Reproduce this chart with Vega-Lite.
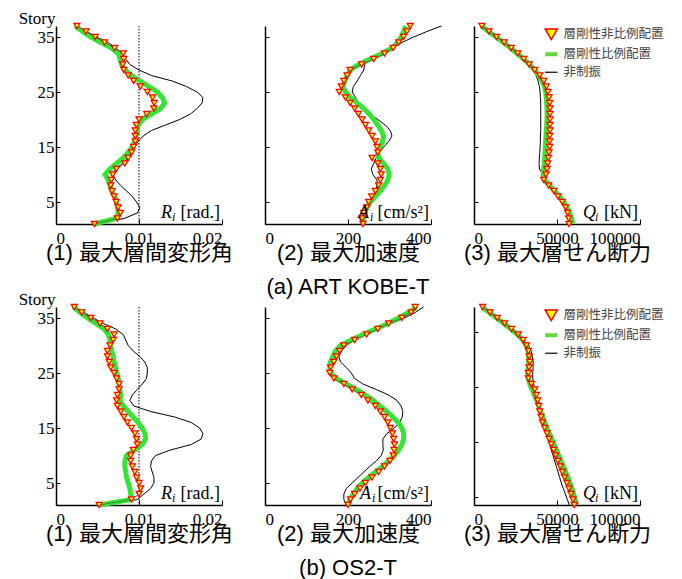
{
"$schema": "https://vega.github.io/schema/vega-lite/v6.json",
"padding": {"left": 18, "top": 9, "right": 0, "bottom": 0},
"config": {
  "view": {"stroke": null},
  "axis": {"grid": false, "domainColor": "black", "domainWidth": 1.5, "tickColor": "black", "tickWidth": 1, "labelFont": "Liberation Serif", "labelFontSize": 17, "labelColor": "black", "titleFont": "Liberation Sans, Noto Sans CJK JP", "titleFontSize": 22, "titleFontWeight": "normal", "titleColor": "black"},
  "title": {"font": "Liberation Sans, Noto Sans CJK JP", "fontSize": 22, "fontWeight": "normal", "color": "black"}
},
"datasets": {
"a1": [
{"s":37,"r":0.00252,"g":0.0023,"b":0.0025},{"s":36,"r":0.00362,"g":0.0032,"b":0.0037},{"s":35,"r":0.00472,"g":0.0042,"b":0.0049},{"s":34,"r":0.00585,"g":0.0054,"b":0.0063},{"s":33,"r":0.00707,"g":0.0067,"b":0.0072},{"s":32,"r":0.00809,"g":0.0075,"b":0.008},{"s":31,"r":0.00817,"g":0.0077,"b":0.0084},{"s":30,"r":0.00805,"g":0.0079,"b":0.0089},{"s":29,"r":0.00817,"g":0.0083,"b":0.01},{"s":28,"r":0.0087,"g":0.0091,"b":0.0115},{"s":27,"r":0.00935,"g":0.0101,"b":0.014},{"s":26,"r":0.01016,"g":0.0112,"b":0.0157},{"s":25,"r":0.01102,"g":0.0122,"b":0.017},{"s":24,"r":0.01163,"g":0.0128,"b":0.0177},{"s":23,"r":0.01183,"g":0.0131,"b":0.0176},{"s":22,"r":0.01179,"g":0.0126,"b":0.017},{"s":21,"r":0.01093,"g":0.0115,"b":0.0162},{"s":20,"r":0.01,"g":0.0104,"b":0.0149},{"s":19,"r":0.00967,"g":0.0099,"b":0.0132},{"s":18,"r":0.00955,"g":0.0098,"b":0.0115},{"s":17,"r":0.00955,"g":0.0096,"b":0.0105},{"s":16,"r":0.00955,"g":0.0095,"b":0.0099},{"s":15,"r":0.00935,"g":0.0092,"b":0.0095},{"s":14,"r":0.00911,"g":0.0087,"b":0.0091},{"s":13,"r":0.0087,"g":0.0081,"b":0.0087},{"s":12,"r":0.00829,"g":0.0073,"b":0.008},{"s":11,"r":0.00728,"g":0.0065,"b":0.0072},{"s":10,"r":0.00683,"g":0.0059,"b":0.0068},{"s":9,"r":0.00667,"g":0.0063,"b":0.0072},{"s":8,"r":0.00659,"g":0.0065,"b":0.0078},{"s":7,"r":0.00675,"g":0.0067,"b":0.0085},{"s":6,"r":0.00699,"g":0.0071,"b":0.0092},{"s":5,"r":0.00724,"g":0.0073,"b":0.0097},{"s":4,"r":0.00748,"g":0.0074,"b":0.0101},{"s":3,"r":0.00776,"g":0.0075,"b":0.0098},{"s":2,"r":0.0074,"g":0.0072,"b":0.0082},{"s":1,"r":0.00463,"g":0.0046,"b":0.0045}
],
"a2": [
{"s":37,"r":350,"g":339,"b":425},{"s":36,"r":342,"g":334,"b":390},{"s":35,"r":334,"g":328,"b":358},{"s":34,"r":322,"g":320,"b":330},{"s":33,"r":309,"g":306,"b":305},{"s":32,"r":288,"g":282,"b":280},{"s":31,"r":262,"g":254,"b":258},{"s":30,"r":233,"g":226,"b":240},{"s":29,"r":205,"g":206,"b":238},{"s":28,"r":198,"g":198,"b":230},{"s":27,"r":190,"g":192,"b":222},{"s":26,"r":184,"g":188,"b":213},{"s":25,"r":179,"g":194,"b":210},{"s":24,"r":194,"g":206,"b":218},{"s":23,"r":205,"g":222,"b":226},{"s":22,"r":216,"g":238,"b":236},{"s":21,"r":225,"g":251,"b":252},{"s":20,"r":234,"g":262,"b":272},{"s":19,"r":242,"g":272,"b":290},{"s":18,"r":250,"g":280,"b":302},{"s":17,"r":258,"g":286,"b":306},{"s":16,"r":266,"g":283,"b":298},{"s":15,"r":270,"g":278,"b":286},{"s":14,"r":272,"g":272,"b":276},{"s":13,"r":258,"g":274,"b":268},{"s":12,"r":272,"g":286,"b":262},{"s":11,"r":278,"g":296,"b":256},{"s":10,"r":280,"g":299,"b":260},{"s":9,"r":278,"g":296,"b":270},{"s":8,"r":274,"g":288,"b":270},{"s":7,"r":266,"g":278,"b":266},{"s":6,"r":257,"g":266,"b":262},{"s":5,"r":250,"g":254,"b":256},{"s":4,"r":245,"g":246,"b":248},{"s":3,"r":238,"g":240,"b":236},{"s":2,"r":234,"g":238,"b":228},{"s":1,"r":236,"g":238,"b":236}
],
"a3": [
{"s":37,"r":4800,"g":4500,"b":4800},{"s":36,"r":9000,"g":8800,"b":9000},{"s":35,"r":13600,"g":13200,"b":13400},{"s":34,"r":18200,"g":17800,"b":18000},{"s":33,"r":22400,"g":22000,"b":22400},{"s":32,"r":26400,"g":26000,"b":26400},{"s":31,"r":30000,"g":30000,"b":30000},{"s":30,"r":33200,"g":33500,"b":33400},{"s":29,"r":36600,"g":36500,"b":35800},{"s":28,"r":39600,"g":39000,"b":37400},{"s":27,"r":42000,"g":41000,"b":38600},{"s":26,"r":43600,"g":42500,"b":39400},{"s":25,"r":44600,"g":43200,"b":39800},{"s":24,"r":45200,"g":43600,"b":40000},{"s":23,"r":45600,"g":43800,"b":40200},{"s":22,"r":45800,"g":44000,"b":40200},{"s":21,"r":45800,"g":44000,"b":40200},{"s":20,"r":45800,"g":44000,"b":40200},{"s":19,"r":45800,"g":43800,"b":40200},{"s":18,"r":45800,"g":43600,"b":40200},{"s":17,"r":45600,"g":43400,"b":40000},{"s":16,"r":45600,"g":43200,"b":40000},{"s":15,"r":45600,"g":43000,"b":39800},{"s":14,"r":45200,"g":42800,"b":39600},{"s":13,"r":44800,"g":42600,"b":39400},{"s":12,"r":44400,"g":42400,"b":39200},{"s":11,"r":44000,"g":42000,"b":39400},{"s":10,"r":43400,"g":41600,"b":42000},{"s":9,"r":42000,"g":42500,"b":43500},{"s":8,"r":45000,"g":45500,"b":45500},{"s":7,"r":48200,"g":48500,"b":48200},{"s":6,"r":50600,"g":51500,"b":50800},{"s":5,"r":53200,"g":54000,"b":53200},{"s":4,"r":55200,"g":56000,"b":55400},{"s":3,"r":56400,"g":57500,"b":57000},{"s":2,"r":57000,"g":58800,"b":58000},{"s":1,"r":57200,"g":59500,"b":58600}
],
"b1": [
{"s":37,"r":0.0022,"g":0.0021,"b":0.0024},{"s":36,"r":0.0031,"g":0.0029,"b":0.0034},{"s":35,"r":0.0042,"g":0.0038,"b":0.0045},{"s":34,"r":0.0053,"g":0.0048,"b":0.0057},{"s":33,"r":0.0062,"g":0.0058,"b":0.0072},{"s":32,"r":0.007,"g":0.0063,"b":0.0081},{"s":31,"r":0.0069,"g":0.0065,"b":0.0084},{"s":30,"r":0.0065,"g":0.0066,"b":0.0087},{"s":29,"r":0.0062,"g":0.0067,"b":0.0093},{"s":28,"r":0.0062,"g":0.0069,"b":0.0101},{"s":27,"r":0.0064,"g":0.007,"b":0.0107},{"s":26,"r":0.0066,"g":0.0072,"b":0.011},{"s":25,"r":0.007,"g":0.0073,"b":0.011},{"s":24,"r":0.0073,"g":0.0075,"b":0.0109},{"s":23,"r":0.0076,"g":0.0076,"b":0.0104},{"s":22,"r":0.0076,"g":0.0077,"b":0.0098},{"s":21,"r":0.0074,"g":0.0078,"b":0.0092},{"s":20,"r":0.0073,"g":0.0077,"b":0.0089},{"s":19,"r":0.0074,"g":0.0081,"b":0.0094},{"s":18,"r":0.0078,"g":0.0087,"b":0.0114},{"s":17,"r":0.0082,"g":0.0093,"b":0.0143},{"s":16,"r":0.0086,"g":0.0099,"b":0.0163},{"s":15,"r":0.0091,"g":0.0104,"b":0.0173},{"s":14,"r":0.0095,"g":0.0107,"b":0.0177},{"s":13,"r":0.0097,"g":0.0108,"b":0.0175},{"s":12,"r":0.0098,"g":0.0104,"b":0.0163},{"s":11,"r":0.0093,"g":0.0095,"b":0.0138},{"s":10,"r":0.009,"g":0.0085,"b":0.012},{"s":9,"r":0.009,"g":0.0083,"b":0.0115},{"s":8,"r":0.0092,"g":0.0083,"b":0.0114},{"s":7,"r":0.0095,"g":0.0084,"b":0.0116},{"s":6,"r":0.0097,"g":0.0085,"b":0.0118},{"s":5,"r":0.01,"g":0.0087,"b":0.0118},{"s":4,"r":0.0102,"g":0.0089,"b":0.0114},{"s":3,"r":0.01,"g":0.009,"b":0.0106},{"s":2,"r":0.0091,"g":0.0091,"b":0.0098},{"s":1,"r":0.0052,"g":0.0052,"b":0.0055}
],
"b2": [
{"s":37,"r":362,"g":366,"b":382},{"s":36,"r":352,"g":346,"b":362},{"s":35,"r":330,"g":322,"b":336},{"s":34,"r":298,"g":296,"b":305},{"s":33,"r":272,"g":266,"b":274},{"s":32,"r":245,"g":236,"b":244},{"s":31,"r":216,"g":208,"b":216},{"s":30,"r":190,"g":182,"b":196},{"s":29,"r":180,"g":170,"b":184},{"s":28,"r":172,"g":163,"b":178},{"s":27,"r":166,"g":158,"b":182},{"s":26,"r":158,"g":156,"b":196},{"s":25,"r":156,"g":158,"b":208},{"s":24,"r":166,"g":172,"b":216},{"s":23,"r":190,"g":195,"b":236},{"s":22,"r":210,"g":220,"b":268},{"s":21,"r":232,"g":242,"b":298},{"s":20,"r":248,"g":261,"b":318},{"s":19,"r":266,"g":277,"b":328},{"s":18,"r":278,"g":293,"b":332},{"s":17,"r":288,"g":308,"b":331},{"s":16,"r":296,"g":321,"b":324},{"s":15,"r":302,"g":330,"b":312},{"s":14,"r":307,"g":334,"b":294},{"s":13,"r":310,"g":334,"b":284},{"s":12,"r":312,"g":330,"b":284},{"s":11,"r":311,"g":322,"b":285},{"s":10,"r":309,"g":312,"b":280},{"s":9,"r":301,"g":298,"b":268},{"s":8,"r":288,"g":283,"b":252},{"s":7,"r":274,"g":266,"b":238},{"s":6,"r":258,"g":250,"b":224},{"s":5,"r":242,"g":234,"b":210},{"s":4,"r":229,"g":222,"b":196},{"s":3,"r":216,"g":213,"b":190},{"s":2,"r":206,"g":205,"b":190},{"s":1,"r":200,"g":200,"b":196}
],
"b3": [
{"s":37,"r":5200,"g":4800,"b":5000},{"s":36,"r":9600,"g":9200,"b":9400},{"s":35,"r":14000,"g":13600,"b":13800},{"s":34,"r":18400,"g":18000,"b":18200},{"s":33,"r":22600,"g":22200,"b":22600},{"s":32,"r":26600,"g":26200,"b":26800},{"s":31,"r":29600,"g":29400,"b":30400},{"s":30,"r":31600,"g":31400,"b":33000},{"s":29,"r":32800,"g":32600,"b":34400},{"s":28,"r":33200,"g":33000,"b":35200},{"s":27,"r":33600,"g":33000,"b":35600},{"s":26,"r":33200,"g":32600,"b":35600},{"s":25,"r":32800,"g":32200,"b":35400},{"s":24,"r":32800,"g":32600,"b":35400},{"s":23,"r":34600,"g":33600,"b":36000},{"s":22,"r":36600,"g":35000,"b":36600},{"s":21,"r":37600,"g":36400,"b":37000},{"s":20,"r":38400,"g":37800,"b":37600},{"s":19,"r":39000,"g":39000,"b":38400},{"s":18,"r":39600,"g":40200,"b":39400},{"s":17,"r":40400,"g":41400,"b":40600},{"s":16,"r":41200,"g":42600,"b":41600},{"s":15,"r":42600,"g":44000,"b":42600},{"s":14,"r":44000,"g":45400,"b":43600},{"s":13,"r":45200,"g":46800,"b":44600},{"s":12,"r":46600,"g":48200,"b":45600},{"s":11,"r":48000,"g":49600,"b":46600},{"s":10,"r":49200,"g":51000,"b":47600},{"s":9,"r":50600,"g":52400,"b":48600},{"s":8,"r":52000,"g":53800,"b":49600},{"s":7,"r":53200,"g":55200,"b":50600},{"s":6,"r":54600,"g":56600,"b":51600},{"s":5,"r":56000,"g":57800,"b":52600},{"s":4,"r":57200,"g":59000,"b":53800},{"s":3,"r":58400,"g":60000,"b":55000},{"s":2,"r":59600,"g":61000,"b":56200},{"s":1,"r":60400,"g":61800,"b":57400}
]
},
"spacing": -8,
"resolve": {"scale": {"stroke": "independent", "fill": "independent", "shape": "independent"}, "legend": {"stroke": "independent", "fill": "independent", "shape": "independent"}},
"vconcat": [
{
"hconcat": [
{
 "width": 166, "height": 198,
 "data": {"name": "a1"},
 "layer": [
  {"data": {"values": [{}]}, "mark": {"type": "rule", "color": "black", "strokeWidth": 1, "strokeDash": [1.5, 1.5]},
   "encoding": {"x": {"datum": 0.01, "type": "quantitative", "scale": {"domain": [0, 0.02], "nice": false, "zero": false}}}},
  {"mark": {"type": "line", "color": "black", "strokeWidth": 1},
   "encoding": {"x": {"field": "b", "type": "quantitative", "scale": {"domain": [0, 0.02], "nice": false, "zero": false}, "axis": {"values": [0, 0.01, 0.02], "format": "~g", "title": "(1)  最大層間変形角", "tickSize": -5, "labelPadding": 11, "titlePadding": -4}},
    "y": {"field": "s", "type": "quantitative", "scale": {"domain": [1, 37], "nice": false, "zero": false}, "axis": {"values": [5, 10, 15, 20, 25, 30, 35], "title": "Story", "titleAngle": 0, "titleAlign": "right", "titleBaseline": "alphabetic", "titleX": -1, "titleY": -3, "titleFont": "Liberation Serif", "titleFontSize": 17, "tickSize": -4, "labelPadding": 6}},
    "order": {"field": "s"}}},
  {"mark": {"type": "line", "color": "#33e633", "strokeWidth": 5},
   "encoding": {"x": {"field": "g", "type": "quantitative", "scale": {"domain": [0, 0.02], "nice": false, "zero": false}}, "y": {"field": "s", "type": "quantitative", "scale": {"domain": [1, 37], "nice": false, "zero": false}}, "order": {"field": "s"}}},
  {"mark": {"type": "line", "color": "#555555", "strokeWidth": 0.8},
   "encoding": {"x": {"field": "r", "type": "quantitative", "scale": {"domain": [0, 0.02], "nice": false, "zero": false}}, "y": {"field": "s", "type": "quantitative", "scale": {"domain": [1, 37], "nice": false, "zero": false}}, "order": {"field": "s"}}},
  {"mark": {"type": "point", "shape": "triangle-down", "filled": true, "fill": "#ffff00", "stroke": "#ff0000", "strokeWidth": 1.2, "size": 38, "opacity": 1},
   "encoding": {"x": {"field": "r", "type": "quantitative", "scale": {"domain": [0, 0.02], "nice": false, "zero": false}}, "y": {"field": "s", "type": "quantitative", "scale": {"domain": [1, 37], "nice": false, "zero": false}}}},
  {"data": {"values": [{}]}, "mark": {"type": "text", "text": "R", "font": "Liberation Serif", "fontStyle": "italic", "fontSize": 18, "align": "left", "baseline": "alphabetic", "dx": -61, "dy": -6},
   "encoding": {"x": {"datum": 0.02, "type": "quantitative"}, "y": {"datum": 1, "type": "quantitative"}}},
  {"data": {"values": [{}]}, "mark": {"type": "text", "text": "i", "font": "Liberation Serif", "fontStyle": "italic", "fontSize": 12, "align": "left", "baseline": "alphabetic", "dx": -50, "dy": -3},
   "encoding": {"x": {"datum": 0.02, "type": "quantitative"}, "y": {"datum": 1, "type": "quantitative"}}},
  {"data": {"values": [{}]}, "mark": {"type": "text", "text": "[rad.]", "font": "Liberation Serif", "fontSize": 18, "align": "right", "baseline": "alphabetic", "dx": -2, "dy": -6},
   "encoding": {"x": {"datum": 0.02, "type": "quantitative"}, "y": {"datum": 1, "type": "quantitative"}}}
 ]
},
{
 "width": 166, "height": 198,
 "data": {"name": "a2"},
 "title": {"text": "(a) ART KOBE-T", "orient": "bottom", "offset": 14},
 "layer": [
  {"mark": {"type": "line", "color": "black", "strokeWidth": 1},
   "encoding": {"x": {"field": "b", "type": "quantitative", "scale": {"domain": [0, 400], "nice": false, "zero": false}, "axis": {"values": [0, 200, 400], "title": "(2)  最大加速度", "tickSize": -5, "labelPadding": 11, "titlePadding": -4}},
    "y": {"field": "s", "type": "quantitative", "scale": {"domain": [1, 37], "nice": false, "zero": false}, "axis": {"values": [5, 10, 15, 20, 25, 30, 35], "title": null, "labels": false, "tickSize": -4}},
    "order": {"field": "s"}}},
  {"mark": {"type": "line", "color": "#33e633", "strokeWidth": 5},
   "encoding": {"x": {"field": "g", "type": "quantitative", "scale": {"domain": [0, 400], "nice": false, "zero": false}}, "y": {"field": "s", "type": "quantitative", "scale": {"domain": [1, 37], "nice": false, "zero": false}}, "order": {"field": "s"}}},
  {"mark": {"type": "line", "color": "#555555", "strokeWidth": 0.8},
   "encoding": {"x": {"field": "r", "type": "quantitative", "scale": {"domain": [0, 400], "nice": false, "zero": false}}, "y": {"field": "s", "type": "quantitative", "scale": {"domain": [1, 37], "nice": false, "zero": false}}, "order": {"field": "s"}}},
  {"mark": {"type": "point", "shape": "triangle-down", "filled": true, "fill": "#ffff00", "stroke": "#ff0000", "strokeWidth": 1.2, "size": 38, "opacity": 1},
   "encoding": {"x": {"field": "r", "type": "quantitative", "scale": {"domain": [0, 400], "nice": false, "zero": false}}, "y": {"field": "s", "type": "quantitative", "scale": {"domain": [1, 37], "nice": false, "zero": false}}}},
  {"data": {"values": [{}]}, "mark": {"type": "text", "text": "A", "font": "Liberation Serif", "fontStyle": "italic", "fontSize": 18, "align": "left", "baseline": "alphabetic", "dx": -73, "dy": -6},
   "encoding": {"x": {"datum": 400, "type": "quantitative"}, "y": {"datum": 1, "type": "quantitative"}}},
  {"data": {"values": [{}]}, "mark": {"type": "text", "text": "i", "font": "Liberation Serif", "fontStyle": "italic", "fontSize": 12, "align": "left", "baseline": "alphabetic", "dx": -61, "dy": -3},
   "encoding": {"x": {"datum": 400, "type": "quantitative"}, "y": {"datum": 1, "type": "quantitative"}}},
  {"data": {"values": [{}]}, "mark": {"type": "text", "text": "[cm/s²]", "font": "Liberation Serif", "fontSize": 18, "align": "right", "baseline": "alphabetic", "dx": -2, "dy": -6},
   "encoding": {"x": {"datum": 400, "type": "quantitative"}, "y": {"datum": 1, "type": "quantitative"}}}
 ]
},
{
 "width": 166, "height": 198,
 "data": {"name": "a3"},
 "layer": [
  {"transform": [{"fold": ["r", "g", "b"], "as": ["k", "v"]}, {"filter": "datum.k == 'b'"}],
   "mark": {"type": "line", "strokeWidth": 1},
   "encoding": {"x": {"field": "v", "type": "quantitative", "scale": {"domain": [0, 100000], "nice": false, "zero": false}, "axis": {"values": [0, 50000, 100000], "format": "d", "title": "(3)  最大層せん断力", "tickSize": -5, "labelPadding": 11, "titlePadding": -4}},
    "y": {"field": "s", "type": "quantitative", "scale": {"domain": [1, 37], "nice": false, "zero": false}, "axis": {"values": [5, 10, 15, 20, 25, 30, 35], "title": null, "labels": false, "tickSize": -4}},
    "order": {"field": "s"},
    "stroke": {"field": "k", "type": "nominal", "scale": {"domain": ["r", "g", "b"], "range": ["#ff0000", "#66d640", "#000000"]}, "legend": {"title": null, "orient": "none", "legendX": 71, "legendY": 2, "labelExpr": "datum.value == 'r' ? '層剛性非比例配置' : datum.value == 'g' ? '層剛性比例配置' : '非制振'", "labelFont": "Noto Sans CJK JP", "labelFontSize": 12.5, "labelColor": "#444444", "symbolSize": 150, "symbolOpacity": 1, "rowPadding": 3, "labelOffset": 6, "encode": {"symbols": {"update": {"strokeWidth": {"signal": "datum.value == 'g' ? 4 : datum.value == 'b' ? 1.2 : 1.5"}}}}}}}},
  {"transform": [{"fold": ["r", "g", "b"], "as": ["k", "v"]}, {"filter": "datum.k == 'g'"}],
   "mark": {"type": "line", "strokeWidth": 5, "color": "#33e633"},
   "encoding": {"x": {"field": "v", "type": "quantitative", "scale": {"domain": [0, 100000], "nice": false, "zero": false}}, "y": {"field": "s", "type": "quantitative", "scale": {"domain": [1, 37], "nice": false, "zero": false}}, "order": {"field": "s"}}},
  {"transform": [{"fold": ["r", "g", "b"], "as": ["k", "v"]}, {"filter": "datum.k == 'r'"}],
   "mark": {"type": "line", "color": "#555555", "strokeWidth": 0.8},
   "encoding": {"x": {"field": "v", "type": "quantitative", "scale": {"domain": [0, 100000], "nice": false, "zero": false}}, "y": {"field": "s", "type": "quantitative", "scale": {"domain": [1, 37], "nice": false, "zero": false}}, "order": {"field": "s"}}},
  {"transform": [{"fold": ["r", "g", "b"], "as": ["k", "v"]}, {"filter": "datum.k == 'r'"}],
   "mark": {"type": "point", "filled": true, "strokeWidth": 1.2, "size": 38, "opacity": 1},
   "encoding": {"x": {"field": "v", "type": "quantitative", "scale": {"domain": [0, 100000], "nice": false, "zero": false}}, "y": {"field": "s", "type": "quantitative", "scale": {"domain": [1, 37], "nice": false, "zero": false}},
    "stroke": {"field": "k", "type": "nominal", "scale": {"domain": ["r", "g", "b"], "range": ["#ff0000", "#66d640", "#000000"]}, "legend": {"title": null, "orient": "none", "legendX": 71, "legendY": 2, "labelExpr": "datum.value == 'r' ? '層剛性非比例配置' : datum.value == 'g' ? '層剛性比例配置' : '非制振'", "labelFont": "Noto Sans CJK JP", "labelFontSize": 12.5, "labelColor": "#444444", "symbolSize": 150, "symbolOpacity": 1, "rowPadding": 3, "labelOffset": 6, "encode": {"symbols": {"update": {"strokeWidth": {"signal": "datum.value == 'g' ? 4 : datum.value == 'b' ? 1.2 : 1.5"}}}}}},
    "fill": {"field": "k", "type": "nominal", "scale": {"domain": ["r", "g", "b"], "range": ["#ffff00", "#66d640", "#000000"]}, "legend": {"title": null, "orient": "none", "legendX": 71, "legendY": 2, "labelExpr": "datum.value == 'r' ? '層剛性非比例配置' : datum.value == 'g' ? '層剛性比例配置' : '非制振'", "labelFont": "Noto Sans CJK JP", "labelFontSize": 12.5, "labelColor": "#444444", "symbolSize": 150, "symbolOpacity": 1, "rowPadding": 3, "labelOffset": 6}},
    "shape": {"field": "k", "type": "nominal", "scale": {"domain": ["r", "g", "b"], "range": ["triangle-down", "stroke", "stroke"]}, "legend": {"title": null, "orient": "none", "legendX": 71, "legendY": 2, "labelExpr": "datum.value == 'r' ? '層剛性非比例配置' : datum.value == 'g' ? '層剛性比例配置' : '非制振'", "labelFont": "Noto Sans CJK JP", "labelFontSize": 12.5, "labelColor": "#444444", "symbolSize": 150, "symbolOpacity": 1, "rowPadding": 3, "labelOffset": 6}}}},
  {"data": {"values": [{}]}, "mark": {"type": "text", "text": "Q", "font": "Liberation Serif", "fontStyle": "italic", "fontSize": 18, "align": "left", "baseline": "alphabetic", "dx": -57, "dy": -6},
   "encoding": {"x": {"datum": 100000, "type": "quantitative"}, "y": {"datum": 1, "type": "quantitative"}}},
  {"data": {"values": [{}]}, "mark": {"type": "text", "text": "i", "font": "Liberation Serif", "fontStyle": "italic", "fontSize": 12, "align": "left", "baseline": "alphabetic", "dx": -45, "dy": -3},
   "encoding": {"x": {"datum": 100000, "type": "quantitative"}, "y": {"datum": 1, "type": "quantitative"}}},
  {"data": {"values": [{}]}, "mark": {"type": "text", "text": "[kN]", "font": "Liberation Serif", "fontSize": 18, "align": "right", "baseline": "alphabetic", "dx": -2, "dy": -6},
   "encoding": {"x": {"datum": 100000, "type": "quantitative"}, "y": {"datum": 1, "type": "quantitative"}}}
 ]
}
],
"spacing": 43,
"bounds": "flush",
"resolve": {"scale": {"stroke": "independent", "fill": "independent", "shape": "independent"}, "legend": {"stroke": "independent", "fill": "independent", "shape": "independent"}}
},
{
"hconcat": [
{
 "width": 166, "height": 198,
 "data": {"name": "b1"},
 "layer": [
  {"data": {"values": [{}]}, "mark": {"type": "rule", "color": "black", "strokeWidth": 1, "strokeDash": [1.5, 1.5]},
   "encoding": {"x": {"datum": 0.01, "type": "quantitative", "scale": {"domain": [0, 0.02], "nice": false, "zero": false}}}},
  {"mark": {"type": "line", "color": "black", "strokeWidth": 1},
   "encoding": {"x": {"field": "b", "type": "quantitative", "scale": {"domain": [0, 0.02], "nice": false, "zero": false}, "axis": {"values": [0, 0.01, 0.02], "format": "~g", "title": "(1)  最大層間変形角", "tickSize": -5, "labelPadding": 11, "titlePadding": -4}},
    "y": {"field": "s", "type": "quantitative", "scale": {"domain": [1, 37], "nice": false, "zero": false}, "axis": {"values": [5, 10, 15, 20, 25, 30, 35], "title": "Story", "titleAngle": 0, "titleAlign": "right", "titleBaseline": "alphabetic", "titleX": -1, "titleY": -3, "titleFont": "Liberation Serif", "titleFontSize": 17, "tickSize": -4, "labelPadding": 6}},
    "order": {"field": "s"}}},
  {"mark": {"type": "line", "color": "#33e633", "strokeWidth": 5},
   "encoding": {"x": {"field": "g", "type": "quantitative", "scale": {"domain": [0, 0.02], "nice": false, "zero": false}}, "y": {"field": "s", "type": "quantitative", "scale": {"domain": [1, 37], "nice": false, "zero": false}}, "order": {"field": "s"}}},
  {"mark": {"type": "line", "color": "#555555", "strokeWidth": 0.8},
   "encoding": {"x": {"field": "r", "type": "quantitative", "scale": {"domain": [0, 0.02], "nice": false, "zero": false}}, "y": {"field": "s", "type": "quantitative", "scale": {"domain": [1, 37], "nice": false, "zero": false}}, "order": {"field": "s"}}},
  {"mark": {"type": "point", "shape": "triangle-down", "filled": true, "fill": "#ffff00", "stroke": "#ff0000", "strokeWidth": 1.2, "size": 38, "opacity": 1},
   "encoding": {"x": {"field": "r", "type": "quantitative", "scale": {"domain": [0, 0.02], "nice": false, "zero": false}}, "y": {"field": "s", "type": "quantitative", "scale": {"domain": [1, 37], "nice": false, "zero": false}}}},
  {"data": {"values": [{}]}, "mark": {"type": "text", "text": "R", "font": "Liberation Serif", "fontStyle": "italic", "fontSize": 18, "align": "left", "baseline": "alphabetic", "dx": -61, "dy": -6},
   "encoding": {"x": {"datum": 0.02, "type": "quantitative"}, "y": {"datum": 1, "type": "quantitative"}}},
  {"data": {"values": [{}]}, "mark": {"type": "text", "text": "i", "font": "Liberation Serif", "fontStyle": "italic", "fontSize": 12, "align": "left", "baseline": "alphabetic", "dx": -50, "dy": -3},
   "encoding": {"x": {"datum": 0.02, "type": "quantitative"}, "y": {"datum": 1, "type": "quantitative"}}},
  {"data": {"values": [{}]}, "mark": {"type": "text", "text": "[rad.]", "font": "Liberation Serif", "fontSize": 18, "align": "right", "baseline": "alphabetic", "dx": -2, "dy": -6},
   "encoding": {"x": {"datum": 0.02, "type": "quantitative"}, "y": {"datum": 1, "type": "quantitative"}}}
 ]
},
{
 "width": 166, "height": 198,
 "data": {"name": "b2"},
 "title": {"text": "(b) OS2-T", "orient": "bottom", "offset": 14},
 "layer": [
  {"mark": {"type": "line", "color": "black", "strokeWidth": 1},
   "encoding": {"x": {"field": "b", "type": "quantitative", "scale": {"domain": [0, 400], "nice": false, "zero": false}, "axis": {"values": [0, 200, 400], "title": "(2)  最大加速度", "tickSize": -5, "labelPadding": 11, "titlePadding": -4}},
    "y": {"field": "s", "type": "quantitative", "scale": {"domain": [1, 37], "nice": false, "zero": false}, "axis": {"values": [5, 10, 15, 20, 25, 30, 35], "title": null, "labels": false, "tickSize": -4}},
    "order": {"field": "s"}}},
  {"mark": {"type": "line", "color": "#33e633", "strokeWidth": 5},
   "encoding": {"x": {"field": "g", "type": "quantitative", "scale": {"domain": [0, 400], "nice": false, "zero": false}}, "y": {"field": "s", "type": "quantitative", "scale": {"domain": [1, 37], "nice": false, "zero": false}}, "order": {"field": "s"}}},
  {"mark": {"type": "line", "color": "#555555", "strokeWidth": 0.8},
   "encoding": {"x": {"field": "r", "type": "quantitative", "scale": {"domain": [0, 400], "nice": false, "zero": false}}, "y": {"field": "s", "type": "quantitative", "scale": {"domain": [1, 37], "nice": false, "zero": false}}, "order": {"field": "s"}}},
  {"mark": {"type": "point", "shape": "triangle-down", "filled": true, "fill": "#ffff00", "stroke": "#ff0000", "strokeWidth": 1.2, "size": 38, "opacity": 1},
   "encoding": {"x": {"field": "r", "type": "quantitative", "scale": {"domain": [0, 400], "nice": false, "zero": false}}, "y": {"field": "s", "type": "quantitative", "scale": {"domain": [1, 37], "nice": false, "zero": false}}}},
  {"data": {"values": [{}]}, "mark": {"type": "text", "text": "A", "font": "Liberation Serif", "fontStyle": "italic", "fontSize": 18, "align": "left", "baseline": "alphabetic", "dx": -71, "dy": -6},
   "encoding": {"x": {"datum": 400, "type": "quantitative"}, "y": {"datum": 1, "type": "quantitative"}}},
  {"data": {"values": [{}]}, "mark": {"type": "text", "text": "i", "font": "Liberation Serif", "fontStyle": "italic", "fontSize": 12, "align": "left", "baseline": "alphabetic", "dx": -59, "dy": -3},
   "encoding": {"x": {"datum": 400, "type": "quantitative"}, "y": {"datum": 1, "type": "quantitative"}}},
  {"data": {"values": [{}]}, "mark": {"type": "text", "text": "[cm/s²]", "font": "Liberation Serif", "fontSize": 18, "align": "right", "baseline": "alphabetic", "dx": -2, "dy": -6},
   "encoding": {"x": {"datum": 400, "type": "quantitative"}, "y": {"datum": 1, "type": "quantitative"}}}
 ]
},
{
 "width": 166, "height": 198,
 "data": {"name": "b3"},
 "layer": [
  {"transform": [{"fold": ["r", "g", "b"], "as": ["k", "v"]}, {"filter": "datum.k == 'b'"}],
   "mark": {"type": "line", "strokeWidth": 1},
   "encoding": {"x": {"field": "v", "type": "quantitative", "scale": {"domain": [0, 100000], "nice": false, "zero": false}, "axis": {"values": [0, 50000, 100000], "format": "d", "title": "(3)  最大層せん断力", "tickSize": -5, "labelPadding": 11, "titlePadding": -4}},
    "y": {"field": "s", "type": "quantitative", "scale": {"domain": [1, 37], "nice": false, "zero": false}, "axis": {"values": [2.5, 7.5, 12.5, 17.5, 22.5, 27.5, 32.5], "title": null, "labels": false, "tickSize": -4}},
    "order": {"field": "s"},
    "stroke": {"field": "k", "type": "nominal", "scale": {"domain": ["r", "g", "b"], "range": ["#ff0000", "#66d640", "#000000"]}, "legend": {"title": null, "orient": "none", "legendX": 71, "legendY": 2, "labelExpr": "datum.value == 'r' ? '層剛性非比例配置' : datum.value == 'g' ? '層剛性比例配置' : '非制振'", "labelFont": "Noto Sans CJK JP", "labelFontSize": 12.5, "labelColor": "#444444", "symbolSize": 150, "symbolOpacity": 1, "rowPadding": 3, "labelOffset": 6, "encode": {"symbols": {"update": {"strokeWidth": {"signal": "datum.value == 'g' ? 4 : datum.value == 'b' ? 1.2 : 1.5"}}}}}}}},
  {"transform": [{"fold": ["r", "g", "b"], "as": ["k", "v"]}, {"filter": "datum.k == 'g'"}],
   "mark": {"type": "line", "strokeWidth": 5, "color": "#33e633"},
   "encoding": {"x": {"field": "v", "type": "quantitative", "scale": {"domain": [0, 100000], "nice": false, "zero": false}}, "y": {"field": "s", "type": "quantitative", "scale": {"domain": [1, 37], "nice": false, "zero": false}}, "order": {"field": "s"}}},
  {"transform": [{"fold": ["r", "g", "b"], "as": ["k", "v"]}, {"filter": "datum.k == 'r'"}],
   "mark": {"type": "line", "color": "#555555", "strokeWidth": 0.8},
   "encoding": {"x": {"field": "v", "type": "quantitative", "scale": {"domain": [0, 100000], "nice": false, "zero": false}}, "y": {"field": "s", "type": "quantitative", "scale": {"domain": [1, 37], "nice": false, "zero": false}}, "order": {"field": "s"}}},
  {"transform": [{"fold": ["r", "g", "b"], "as": ["k", "v"]}, {"filter": "datum.k == 'r'"}],
   "mark": {"type": "point", "filled": true, "strokeWidth": 1.2, "size": 38, "opacity": 1},
   "encoding": {"x": {"field": "v", "type": "quantitative", "scale": {"domain": [0, 100000], "nice": false, "zero": false}}, "y": {"field": "s", "type": "quantitative", "scale": {"domain": [1, 37], "nice": false, "zero": false}},
    "stroke": {"field": "k", "type": "nominal", "scale": {"domain": ["r", "g", "b"], "range": ["#ff0000", "#66d640", "#000000"]}, "legend": {"title": null, "orient": "none", "legendX": 71, "legendY": 2, "labelExpr": "datum.value == 'r' ? '層剛性非比例配置' : datum.value == 'g' ? '層剛性比例配置' : '非制振'", "labelFont": "Noto Sans CJK JP", "labelFontSize": 12.5, "labelColor": "#444444", "symbolSize": 150, "symbolOpacity": 1, "rowPadding": 3, "labelOffset": 6, "encode": {"symbols": {"update": {"strokeWidth": {"signal": "datum.value == 'g' ? 4 : datum.value == 'b' ? 1.2 : 1.5"}}}}}},
    "fill": {"field": "k", "type": "nominal", "scale": {"domain": ["r", "g", "b"], "range": ["#ffff00", "#66d640", "#000000"]}, "legend": {"title": null, "orient": "none", "legendX": 71, "legendY": 2, "labelExpr": "datum.value == 'r' ? '層剛性非比例配置' : datum.value == 'g' ? '層剛性比例配置' : '非制振'", "labelFont": "Noto Sans CJK JP", "labelFontSize": 12.5, "labelColor": "#444444", "symbolSize": 150, "symbolOpacity": 1, "rowPadding": 3, "labelOffset": 6}},
    "shape": {"field": "k", "type": "nominal", "scale": {"domain": ["r", "g", "b"], "range": ["triangle-down", "stroke", "stroke"]}, "legend": {"title": null, "orient": "none", "legendX": 71, "legendY": 2, "labelExpr": "datum.value == 'r' ? '層剛性非比例配置' : datum.value == 'g' ? '層剛性比例配置' : '非制振'", "labelFont": "Noto Sans CJK JP", "labelFontSize": 12.5, "labelColor": "#444444", "symbolSize": 150, "symbolOpacity": 1, "rowPadding": 3, "labelOffset": 6}}}},
  {"data": {"values": [{}]}, "mark": {"type": "text", "text": "Q", "font": "Liberation Serif", "fontStyle": "italic", "fontSize": 18, "align": "left", "baseline": "alphabetic", "dx": -57, "dy": -6},
   "encoding": {"x": {"datum": 100000, "type": "quantitative"}, "y": {"datum": 1, "type": "quantitative"}}},
  {"data": {"values": [{}]}, "mark": {"type": "text", "text": "i", "font": "Liberation Serif", "fontStyle": "italic", "fontSize": 12, "align": "left", "baseline": "alphabetic", "dx": -45, "dy": -3},
   "encoding": {"x": {"datum": 100000, "type": "quantitative"}, "y": {"datum": 1, "type": "quantitative"}}},
  {"data": {"values": [{}]}, "mark": {"type": "text", "text": "[kN]", "font": "Liberation Serif", "fontSize": 18, "align": "right", "baseline": "alphabetic", "dx": -2, "dy": -6},
   "encoding": {"x": {"datum": 100000, "type": "quantitative"}, "y": {"datum": 1, "type": "quantitative"}}}
 ]
}
],
"spacing": 43,
"bounds": "flush",
"resolve": {"scale": {"stroke": "independent", "fill": "independent", "shape": "independent"}, "legend": {"stroke": "independent", "fill": "independent", "shape": "independent"}}
}
]
}
